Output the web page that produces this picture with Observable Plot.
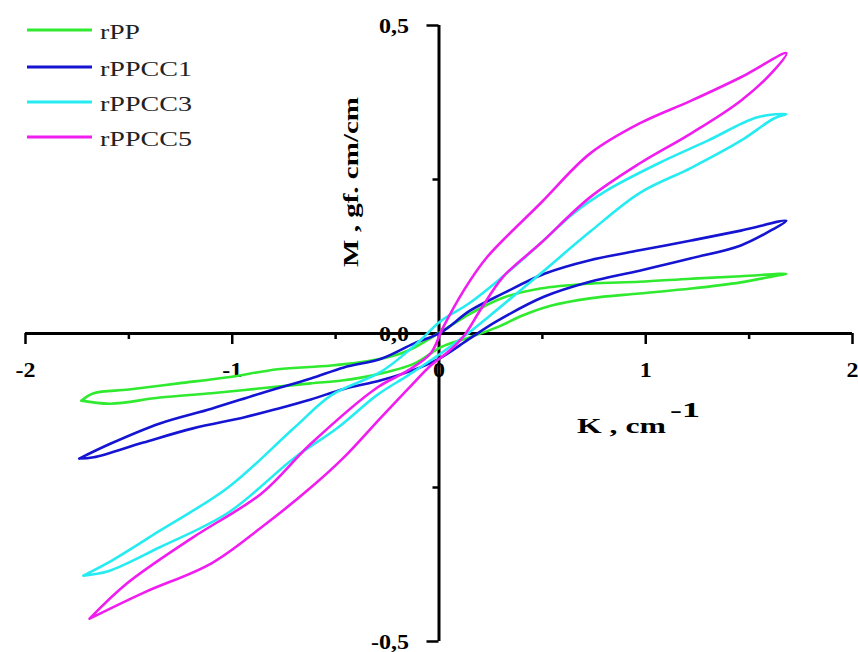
<!DOCTYPE html>
<html><head><meta charset="utf-8">
<script src="https://cdn.jsdelivr.net/npm/d3@7"></script>
<script src="https://cdn.jsdelivr.net/npm/@observablehq/plot@0.6"></script>
<style>body{margin:0;background:#fff}#chart{position:relative;width:858px;height:652px}</style>
</head><body><div id="chart"></div>
<script>
// Series names and colours
const seriesNames = ["rPP", "rPPCC1", "rPPCC3", "rPPCC5"];
const seriesColors = ["#30ea30", "#1414d2", "#26ecf2", "#f01cf0"];

// Closed hysteresis loops: lower branch left->right, then upper branch right->left
const rPP_K = [-1.73,-1.59,-1.35,-1.10,-0.86,-0.62,-0.46,-0.32,-0.12,0.01,0.15,0.28,0.41,0.54,0.73,0.97,1.22,1.46,1.62,1.68,1.46,1.22,0.97,0.73,0.49,0.31,0.15,0.01,-0.15,-0.28,-0.52,-0.78,-1.02,-1.26,-1.50,-1.67,-1.73];
const rPP_M = [-0.109,-0.114,-0.104,-0.097,-0.089,-0.081,-0.076,-0.068,-0.049,-0.022,-0.006,0.010,0.030,0.045,0.057,0.065,0.073,0.083,0.093,0.097,0.093,0.089,0.084,0.081,0.073,0.058,0.032,0.003,-0.028,-0.041,-0.052,-0.058,-0.071,-0.081,-0.091,-0.097,-0.109];

const rPPCC1_K = [-1.74,-1.67,-1.43,-1.19,-0.94,-0.78,-0.62,-0.46,-0.28,-0.09,0.01,0.15,0.28,0.51,0.73,0.97,1.22,1.46,1.62,1.68,1.46,1.22,0.97,0.73,0.51,0.31,0.15,0.01,-0.12,-0.28,-0.46,-0.62,-0.86,-1.10,-1.35,-1.59,-1.74];
const rPPCC1_M = [-0.203,-0.201,-0.177,-0.154,-0.136,-0.122,-0.107,-0.090,-0.076,-0.055,-0.039,-0.008,0.020,0.060,0.084,0.102,0.122,0.143,0.170,0.183,0.167,0.151,0.135,0.119,0.097,0.065,0.037,0.002,-0.016,-0.041,-0.055,-0.073,-0.097,-0.122,-0.146,-0.179,-0.203];

const rPPCC3_K = [-1.72,-1.60,-1.35,-1.02,-0.70,-0.49,-0.30,-0.15,0.01,0.12,0.25,0.49,0.73,0.97,1.22,1.46,1.62,1.68,1.54,1.30,1.06,0.81,0.65,0.49,0.30,0.15,0.00,-0.09,-0.28,-0.52,-0.70,-1.02,-1.35,-1.60,-1.72];
const rPPCC3_M = [-0.393,-0.386,-0.347,-0.291,-0.202,-0.153,-0.100,-0.068,-0.032,-0.005,0.030,0.097,0.165,0.228,0.269,0.313,0.349,0.356,0.351,0.313,0.276,0.232,0.195,0.146,0.090,0.050,0.018,-0.011,-0.062,-0.100,-0.153,-0.250,-0.320,-0.372,-0.393];

const rPPCC5_K = [-1.69,-1.43,-1.10,-0.86,-0.62,-0.46,-0.28,-0.15,-0.04,0.05,0.12,0.20,0.31,0.49,0.73,0.97,1.22,1.46,1.62,1.68,1.46,1.22,0.97,0.73,0.49,0.23,0.12,0.02,-0.04,-0.15,-0.30,-0.62,-0.86,-1.19,-1.51,-1.69];
const rPPCC5_M = [-0.463,-0.421,-0.373,-0.315,-0.250,-0.201,-0.136,-0.090,-0.052,-0.028,-0.004,0.038,0.092,0.146,0.221,0.276,0.325,0.378,0.427,0.455,0.416,0.378,0.341,0.292,0.211,0.123,0.070,0.010,-0.032,-0.060,-0.088,-0.179,-0.260,-0.331,-0.406,-0.463];

// Axis ticks and labels
const xMajorTicks = [-2, -1, 1, 2];
const xMinorTicks = [-1.5, -0.5, 0.5, 1.5];
const xTickLabels = [{v: -2, t: "-2"}, {v: -1, t: "-1"}, {v: 0, t: "0"}, {v: 1, t: "1"}, {v: 2, t: "2"}];
const yMajorTicks = [-0.5, 0.5];
const yMinorTicks = [-0.25, 0.25];
const yTickLabels = [{v: -0.5, t: "-0,5"}, {v: 0, t: "0,0"}, {v: 0.5, t: "0,5"}];

const loops = [
  {name: "rPP", K: rPP_K, M: rPP_M},
  {name: "rPPCC1", K: rPPCC1_K, M: rPPCC1_M},
  {name: "rPPCC3", K: rPPCC3_K, M: rPPCC3_M},
  {name: "rPPCC5", K: rPPCC5_K, M: rPPCC5_M}
];
const rows = loops.flatMap(s => s.K.map((k, i) => ({series: s.name, k, m: s.M[i]})));

const FONT = "'Liberation Serif','Times New Roman',serif";

const plot = Plot.plot({
  width: 858, height: 652,
  marginLeft: 25, marginRight: 6, marginTop: 25, marginBottom: 11,
  x: {domain: [-2, 2], axis: null},
  y: {domain: [-0.5, 0.5], axis: null},
  color: {domain: seriesNames, range: seriesColors},
  style: {fontFamily: FONT, background: "white", color: "black"},
  marks: [
    Plot.ruleY([0], {x1: -2, x2: 2, stroke: "black", strokeWidth: 3}),
    Plot.ruleX([0], {y1: -0.5, y2: 0.5, stroke: "black", strokeWidth: 3}),
    Plot.ruleX(xMajorTicks, {x: d => d, y1: 0, y2: 0, insetBottom: -11, stroke: "black", strokeWidth: 2.5}),
    Plot.ruleX(xMinorTicks, {x: d => d, y1: 0, y2: 0, insetBottom: -6, stroke: "black", strokeWidth: 2.5}),
    Plot.ruleY(yMajorTicks, {y: d => d, x1: 0, x2: 0, insetLeft: -12, stroke: "black", strokeWidth: 2.5}),
    Plot.ruleY(yMinorTicks, {y: d => d, x1: 0, x2: 0, insetLeft: -6, stroke: "black", strokeWidth: 2.5}),
    Plot.text(xTickLabels, {x: "v", y: 0, text: "t", dy: 37, fontSize: 20, fontWeight: "bold", fill: "black"}),
    Plot.text(yTickLabels, {x: 0, y: "v", text: "t", dx: -30, dy: 1, textAnchor: "end", fontSize: 20, fontWeight: "bold", fill: "black"}),
    Plot.line(rows, {x: "k", y: "m", z: "series", stroke: "series", strokeWidth: 2.6, curve: "catmull-rom"})
  ]
});

// Stretch tick-label text horizontally like the reference
plot.querySelectorAll("text").forEach(t => {
  const tr = t.getAttribute("transform") || "";
  t.setAttribute("transform", tr + " scale(1.2,1)");
});

const svg = d3.select(plot);
// Axis titles
svg.append("text").attr("x", 577).attr("y", 433).attr("text-anchor", "start")
  .attr("font-family", FONT).attr("font-weight", "bold").attr("font-size", 22).attr("fill", "black")
  .attr("textLength", 89).attr("lengthAdjust", "spacingAndGlyphs").text("K , cm");
svg.append("text").attr("x", 670).attr("y", 417).attr("text-anchor", "start")
  .attr("font-family", FONT).attr("font-weight", "bold").attr("font-size", 21).attr("fill", "black")
  .attr("textLength", 30).attr("lengthAdjust", "spacingAndGlyphs").text("-1");

svg.append("text").attr("transform", "translate(358,182) rotate(-90)")
  .attr("text-anchor", "middle").attr("font-family", FONT).attr("font-weight", "bold")
  .attr("font-size", 22).attr("fill", "black")
  .attr("textLength", 170).attr("lengthAdjust", "spacingAndGlyphs").text("M , gf. cm/cm");

// Legend
const legendY = [30, 67, 102, 137];
const legendW = [40, 92, 92, 92];
const lg = svg.append("g");
seriesNames.forEach((n, i) => {
  lg.append("line").attr("x1", 27).attr("x2", 92).attr("y1", legendY[i]).attr("y2", legendY[i])
    .attr("stroke", seriesColors[i]).attr("stroke-width", 3);
  lg.append("text").attr("x", 100).attr("y", legendY[i] + 9).attr("text-anchor", "start")
    .attr("font-family", FONT).attr("font-size", 22).attr("fill", "#222")
    .attr("textLength", legendW[i]).attr("lengthAdjust", "spacingAndGlyphs").text(n);
});

document.getElementById("chart").appendChild(plot);
</script>
</body></html>
